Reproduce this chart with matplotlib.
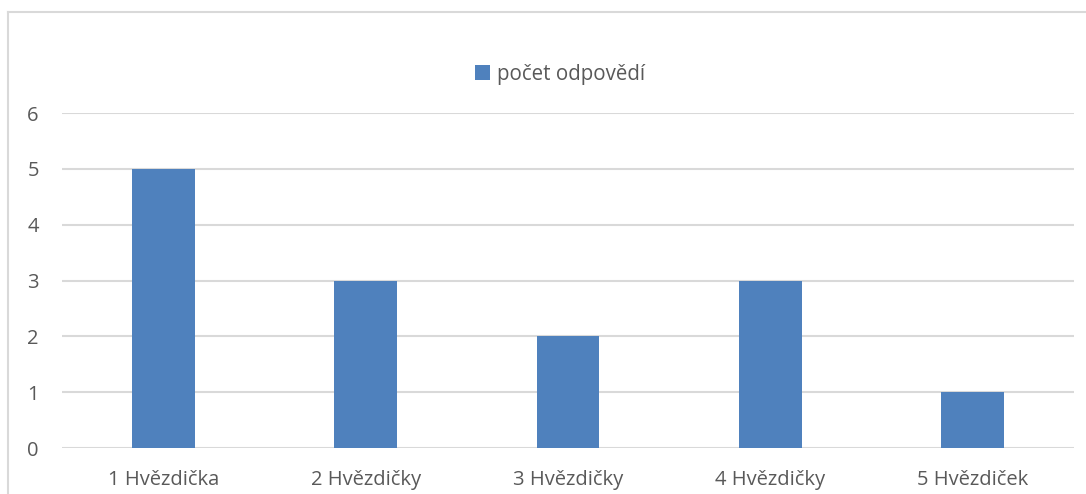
import matplotlib.pyplot as plt
from matplotlib.lines import Line2D

categories = ["1 Hvězdička", "2 Hvězdičky", "3 Hvězdičky", "4 Hvězdičky", "5 Hvězdiček"]
counts = [5, 3, 2, 3, 1]
series_name = "počet odpovědí"

plt.rcParams['font.family'] = ['Open Sans', 'DejaVu Sans']

bar_color = "#4F81BD"
text_color = "#595959"
grid_color = "#D9D9D9"

fig = plt.figure(figsize=(10.86, 4.94), dpi=100)
ax = fig.add_axes([0.0575, 0.093, 0.931, 0.678])

x = list(range(len(categories)))
ax.bar(x, counts, width=0.31, color=bar_color, label=series_name, zorder=3)

ax.set_xlim(-0.5, len(categories) - 0.5)
ax.set_ylim(0, 6)
ax.set_yticks(range(0, 7))
ax.set_xticks(x)
ax.set_xticklabels(categories)
ax.yaxis.grid(True, color=grid_color, linewidth=1.5, zorder=0)
ax.set_axisbelow(True)
for s in ax.spines.values():
    s.set_visible(False)
ax.tick_params(axis="both", length=0, labelsize=14.5, colors=text_color)
ax.tick_params(axis="y", pad=17)
ax.tick_params(axis="x", pad=16)

leg = ax.legend(loc="lower center", bbox_to_anchor=(0.492, 1.03), frameon=False,
                fontsize=14.8, handlelength=0.75, handleheight=0.75, handletextpad=0.3)
for t in leg.get_texts():
    t.set_color(text_color)

# chart border (left and top visible in the reference)
fig.add_artist(Line2D([0.0075, 0.0075], [0, 0.976], color=grid_color, linewidth=1.5))
fig.add_artist(Line2D([0.0075, 1.0], [0.976, 0.976], color=grid_color, linewidth=1.5))

fig.savefig("out.png", dpi=100)
